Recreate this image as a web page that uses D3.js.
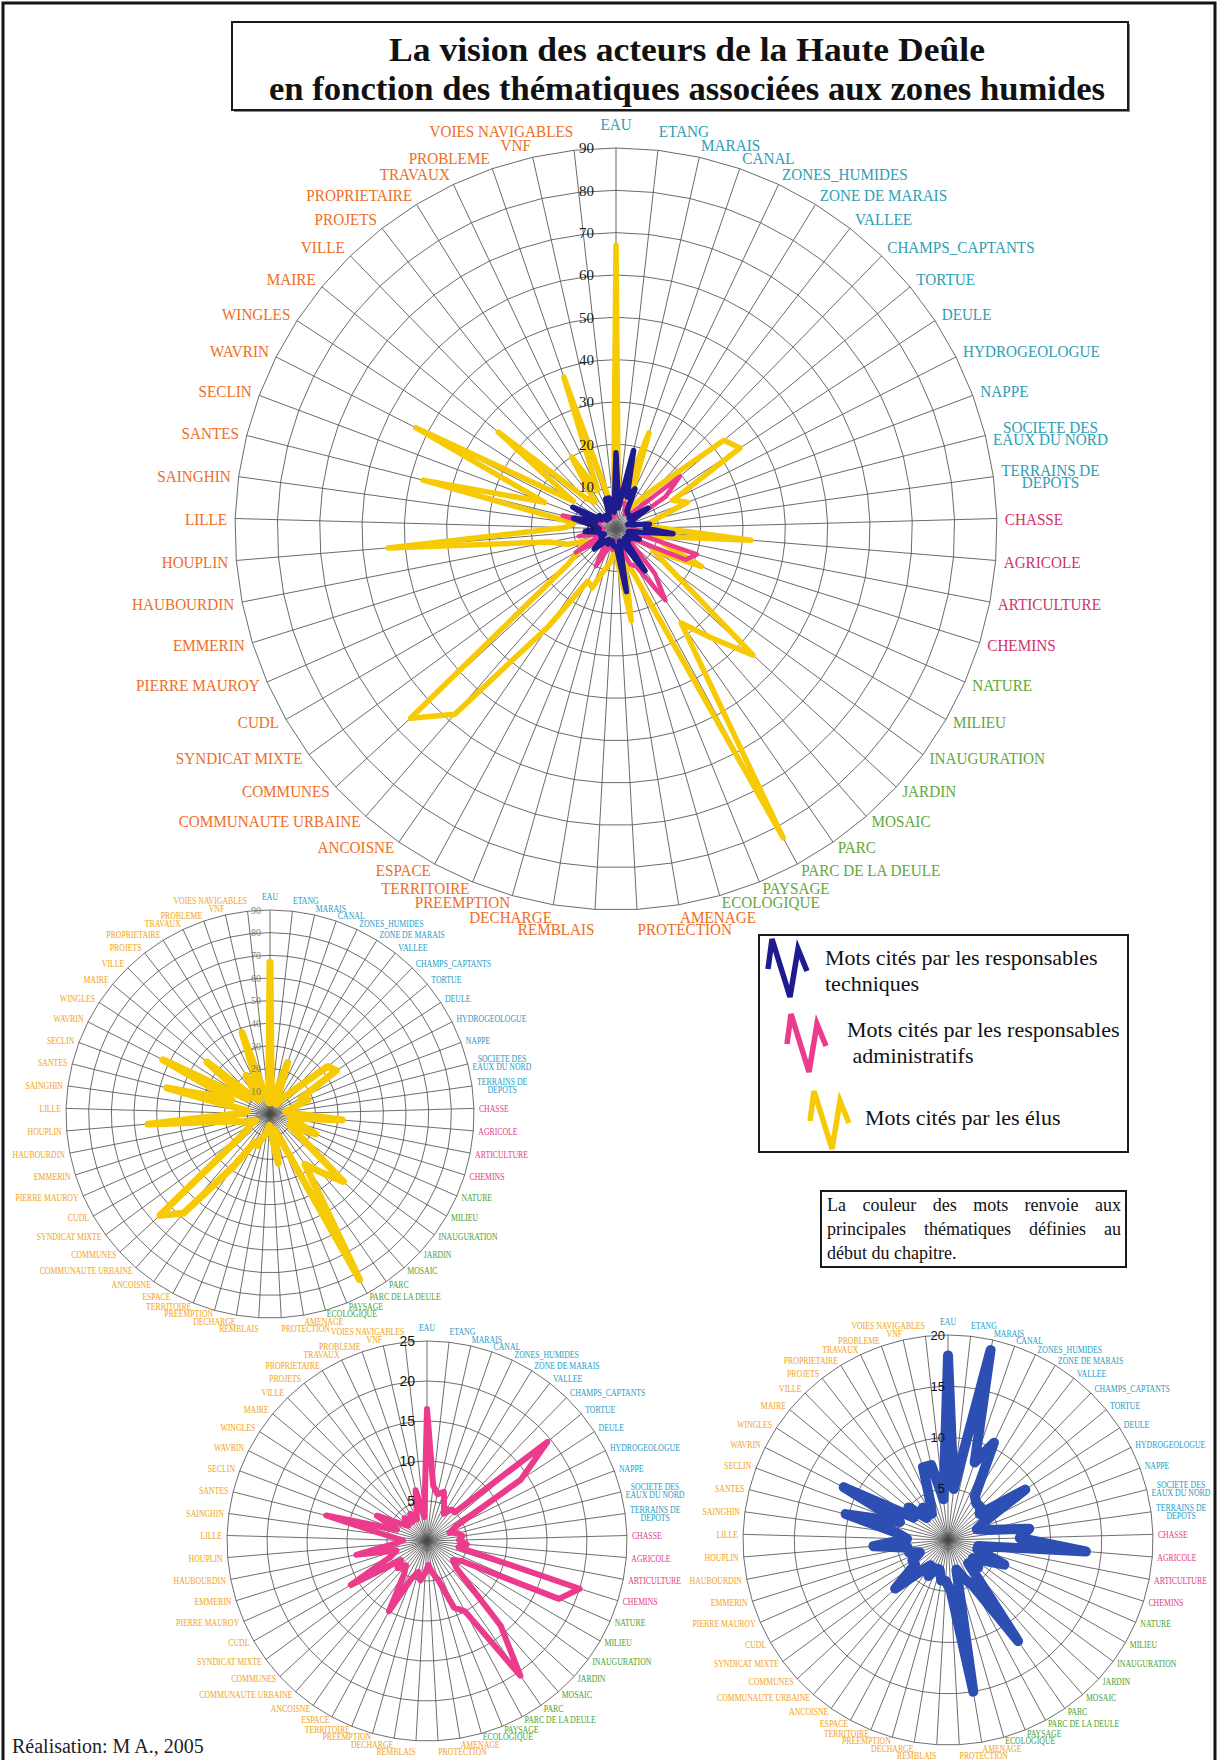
<!DOCTYPE html>
<html>
<head>
<meta charset="utf-8">
<script src="https://cdn.jsdelivr.net/npm/d3@7"></script>
<style>
  body { margin: 0; background: #fff; }
  svg { display: block; }
  text { font-family: "Liberation Serif", "Times New Roman", serif; }
</style>
</head>
<body>
<svg id="chart" width="1218" height="1760"></svg>
<script>
// ---- data -------------------------------------------------------------
const categories = [
  "EAU","ETANG","MARAIS","CANAL","ZONES_HUMIDES","ZONE DE MARAIS","VALLEE",
  "CHAMPS_CAPTANTS","TORTUE","DEULE","HYDROGEOLOGUE","NAPPE",
  "SOCIETE DES\nEAUX DU NORD","TERRAINS DE\nDEPOTS",
  "CHASSE","AGRICOLE","ARTICULTURE","CHEMINS",
  "NATURE","MILIEU","INAUGURATION","JARDIN","MOSAIC","PARC","PARC DE LA DEULE",
  "PAYSAGE","ECOLOGIQUE",
  "AMENAGE","PROTECTION","REMBLAIS","DECHARGE","PREEMPTION","TERRITOIRE","ESPACE",
  "ANCOISNE","COMMUNAUTE URBAINE","COMMUNES","SYNDICAT MIXTE","CUDL","PIERRE MAUROY",
  "EMMERIN","HAUBOURDIN","HOUPLIN","LILLE","SAINGHIN","SANTES","SECLIN","WAVRIN",
  "WINGLES","MAIRE","VILLE","PROJETS","PROPRIETAIRE","TRAVAUX","PROBLEME","VNF",
  "VOIES NAVIGABLES"
];

// number of consecutive words belonging to each theme, in category order
const themeNames = ["eau", "agriculture", "nature", "acteurs"];
const themeSizes = [14, 4, 9, 30];

// word counts per group of speakers
const elus = [67,5,8,24,8,5,8,14,33,35,15,18,10,7,10,32,9,12,22,10,
              16,44,34,27,83,12,7,22,8,5,8,10,15,14,28,58,66,14,10,7,
              12,16,54,12,10,47,18,53,12,36,10,8,20,10,38,7,5];
const administratifs = [16.5,7,6,6.5,5,4,5,5,19.5,14,4,3,4,4.5,4,5,4,20,18,5,
              4,5,14,20.5,10,9,5,4,3,4,5,4,5,10,5,4,5,4,11,5,
              4,9,4,3,5,13,4,7,4,3,4,3,4,3,4,6.5,3];
const techniques = [18,5,19,8,10.5,5,4.5,4.5,4,9,4,3,4,8,7,13.5,3,3,6,4,
              3,4,3,12,5,4,3,15,5,4,4,3,3,4,3,4,7,4,4,3,
              4,4,7.3,4,5,10.3,5,11.4,4,5,3,4,3,4,7.5,7.5,4];

const mainTicks = d3.range(0, 91, 10);
const elusTicks = d3.range(0, 91, 10);
const adminTicks = [5, 10, 15, 20, 25];
const techTicks = [5, 10, 15, 20];

const titleLines = ["La vision des acteurs de la Haute Deûle",
                    "en fonction des thématiques associées aux zones humides"];
const legendLabels = [
  ["Mots cités par les responsables", "techniques"],
  ["Mots cités par les responsables", " administratifs"],
  ["Mots cités par les élus"]
];
const noteText = "La couleur des mots renvoie aux principales thématiques définies au début du chapitre.";
const credit = "Réalisation: M A., 2005";

// ---- styles ------------------------------------------------------------
const mainThemeColor = { eau: "#2E9EB4", agriculture: "#CF3468", nature: "#5FA83C", acteurs: "#EE6E27" };
const smallThemeColor = { eau: "#2A9DC6", agriculture: "#E43C88", nature: "#4EA234", acteurs: "#F2A41E" };
const seriesColor = { techniques: "#1E1B8E", administratifs: "#EC3A8D", elus: "#F7CA06", techSmall: "#2D4EB2" };

const themeOf = [];
themeSizes.forEach((n, k) => { for (let j = 0; j < n; j++) themeOf.push(themeNames[k]); });

const svg = d3.select("#chart");
const N = categories.length;
const angle = d3.scaleLinear().domain([0, N]).range([0, 2 * Math.PI]);

// vertical shift of a category label's centre from its ring point,
// as a function of the cosine of the spoke angle (labels near the
// top sit above the ring, those near the bottom below it)
const labelShift = d3.scaleLinear()
  .domain([-1, -0.99, -0.97, -0.6, 0, 0.6, 0.97, 0.99, 1])
  .range([22, 14, 7, 4, 2, -7, -10, -15, -23]);

// page frame (open at the bottom edge)
svg.append("path").attr("d", "M3,1760V3H1215V1760")
  .attr("fill", "none").attr("stroke", "#151515").attr("stroke-width", 3);

// ---- radar -------------------------------------------------------------
function radar(o) {
  const g = svg.append("g").attr("transform", `translate(${o.cx},${o.cy})`);
  const r = d3.scaleLinear().domain([0, o.max]).range([0, o.R]);
  const idx = d3.range(N);

  const ring = v => d3.lineRadial()
    .angle(i => angle(i)).radius(() => r(v)).curve(d3.curveLinearClosed)(idx);

  // rings
  g.append("g").selectAll("path").data(o.ticks.filter(t => t > 0)).join("path")
    .attr("d", t => ring(t)).attr("fill", "none")
    .attr("stroke", o.gridColor).attr("stroke-width", o.gridWidth);
  // spokes
  g.append("g").selectAll("line").data(idx).join("line")
    .attr("x1", 0).attr("y1", 0)
    .attr("x2", i => r(o.max) * Math.sin(angle(i)))
    .attr("y2", i => -r(o.max) * Math.cos(angle(i)))
    .attr("stroke", o.gridColor).attr("stroke-width", o.gridWidth);

  // series
  const line = d3.lineRadial().angle((d, i) => angle(i)).radius(d => r(d)).curve(d3.curveLinearClosed);
  o.series.forEach(s => {
    g.append("path").attr("d", line(s.values)).attr("fill", "none")
      .attr("stroke", s.color).attr("stroke-width", s.width)
      .attr("stroke-linejoin", "round");
  });

  // value axis labels along the first spoke
  g.append("g").selectAll("text").data(o.ticks).join("text")
    .attr("x", -o.tickDx).attr("y", t => -r(t)).attr("dy", "0.35em")
    .attr("text-anchor", "end")
    .style("font-family", o.tickFamily).style("font-size", o.tickSize + "px")
    .attr("fill", o.tickColor).text(t => t);

  // category labels, placed just outside the outer ring
  categories.forEach((name, i) => {
    const a = angle(i), s = Math.sin(a), c = Math.cos(a);
    const px = (o.R + o.gap) * s;
    const centreY = -o.R * c + o.shiftScale * labelShift(c);
    const anchor = Math.abs(s) < 0.05 ? "middle" : (s > 0 ? "start" : "end");
    const lines = name.split("\n");
    const y0 = centreY + 0.33 * o.fs - (lines.length - 1) * o.lh / 2;
    const lg = g.append("g").attr("transform", `translate(${px},${y0}) scale(${o.sx},1)`);
    const t = lg.append("text").attr("text-anchor", anchor)
      .style("font-size", o.fs + "px").attr("fill", o.colors[themeOf[i]]);
    const spans = lines.map((ln, k) => t.append("tspan").attr("x", 0).attr("y", k * o.lh).text(ln));
    if (lines.length > 1) {
      const w = spans.map(sp => sp.node().getComputedTextLength());
      const mw = d3.max(w);
      spans.forEach((sp, k) => sp.attr("x", (anchor === "end" ? -1 : 1) * (mw - w[k]) / 2));
    }
  });
  return g;
}

// main chart: all three groups together
radar({
  cx: 616, cy: 529, R: 381, max: 90, ticks: mainTicks,
  gridColor: "#5a5a5a", gridWidth: 0.9,
  series: [
    { values: elus, color: seriesColor.elus, width: 5.5 },
    { values: administratifs, color: seriesColor.administratifs, width: 4.5 },
    { values: techniques, color: seriesColor.techniques, width: 5.5 }
  ],
  tickDx: 22, tickSize: 15, tickFamily: "Liberation Serif", tickColor: "#1a1a1a",
  gap: 8, shiftScale: 1, fs: 16, sx: 0.95, lh: 12.5, colors: mainThemeColor
});

// elected officials
radar({
  cx: 270, cy: 1114, R: 204, max: 90, ticks: elusTicks,
  gridColor: "#4a4a4a", gridWidth: 0.8,
  series: [{ values: elus, color: seriesColor.elus, width: 7 }],
  tickDx: 9, tickSize: 10, tickFamily: "Liberation Serif", tickColor: "#7a7a7a",
  gap: 5, shiftScale: 0.55, fs: 9.5, sx: 0.82, lh: 8, colors: smallThemeColor
});

// administrative staff
radar({
  cx: 427, cy: 1541, R: 200, max: 25, ticks: adminTicks,
  gridColor: "#4a4a4a", gridWidth: 0.8,
  series: [{ values: administratifs, color: seriesColor.administratifs, width: 6 }],
  tickDx: 12, tickSize: 14, tickFamily: "Liberation Sans", tickColor: "#111",
  gap: 5, shiftScale: 0.55, fs: 9.5, sx: 0.82, lh: 8, colors: smallThemeColor
});

// technical staff
radar({
  cx: 948, cy: 1540, R: 205, max: 20, ticks: techTicks,
  gridColor: "#4a4a4a", gridWidth: 0.8,
  series: [{ values: techniques, color: seriesColor.techSmall, width: 10 }],
  tickDx: 3, tickSize: 13, tickFamily: "Liberation Sans", tickColor: "#111",
  gap: 5, shiftScale: 0.55, fs: 9.5, sx: 0.82, lh: 8, colors: smallThemeColor
});

// ---- title -------------------------------------------------------------
svg.append("rect").attr("x", 234).attr("y", 24).attr("width", 896).attr("height", 88)
  .attr("fill", "#8a8a8a");
svg.append("rect").attr("x", 232).attr("y", 22).attr("width", 896).attr("height", 88)
  .attr("fill", "#fff").attr("stroke", "#1a1a1a").attr("stroke-width", 2);
const titleG = svg.append("g").style("font-weight", "bold").style("font-size", "33px").attr("fill", "#111");
titleG.append("text").attr("x", 687).attr("y", 61).attr("text-anchor", "middle")
  .attr("textLength", 596).attr("lengthAdjust", "spacingAndGlyphs").text(titleLines[0]);
titleG.append("text").attr("x", 687).attr("y", 100).attr("text-anchor", "middle")
  .attr("textLength", 836).attr("lengthAdjust", "spacingAndGlyphs").text(titleLines[1]);

// ---- legend ------------------------------------------------------------
svg.append("rect").attr("x", 759).attr("y", 935).attr("width", 369).attr("height", 217)
  .attr("fill", "#fff").attr("stroke", "#1a1a1a").attr("stroke-width", 2);

// zigzag glyph, relative to its own origin
const zig = [[0, 28], [4, -2], [22, 56], [30, 8], [39, 30]];
const legendItems = [
  { color: seriesColor.techniques, ox: 768, oy: 941, tx: 825, ty: [965, 991] },
  { color: seriesColor.administratifs, ox: 787, oy: 1016, tx: 847, ty: [1037, 1063] },
  { color: seriesColor.elus, ox: 810, oy: 1093, tx: 865, ty: [1125] }
];
legendItems.forEach((it, k) => {
  svg.append("path").attr("d", d3.line()(zig.map(p => [it.ox + p[0], it.oy + p[1]])))
    .attr("fill", "none").attr("stroke", it.color).attr("stroke-width", 5.5)
    .attr("stroke-linejoin", "miter");
  legendLabels[k].forEach((ln, j) => {
    svg.append("text").attr("x", it.tx).attr("y", it.ty[j])
      .style("font-size", "22px").attr("fill", "#111").attr("xml:space", "preserve").text(ln);
  });
});

// ---- note (justified) --------------------------------------------------
svg.append("rect").attr("x", 821).attr("y", 1191).attr("width", 305).attr("height", 76)
  .attr("fill", "#fff").attr("stroke", "#1a1a1a").attr("stroke-width", 2);
(function () {
  const words = noteText.split(" ");
  const lines = [words.slice(0, 6), words.slice(6, 10), words.slice(10)];
  const left = 827, right = 1121, fs = 18;
  lines.forEach((ws, li) => {
    const y = 1211 + li * 24;
    const nodes = ws.map(w => svg.append("text").attr("y", y).style("font-size", fs + "px")
      .attr("fill", "#111").text(w));
    const widths = nodes.map(n => n.node().getComputedTextLength());
    const last = li === lines.length - 1;
    const gap = last ? 4.5 : (right - left - d3.sum(widths)) / (ws.length - 1);
    let x = left;
    nodes.forEach((n, k) => { n.attr("x", x); x += widths[k] + gap; });
  });
})();

// ---- credit ------------------------------------------------------------
svg.append("text").attr("x", 12).attr("y", 1753).style("font-size", "20px").attr("fill", "#222")
  .text(credit);
</script>
</body>
</html>
